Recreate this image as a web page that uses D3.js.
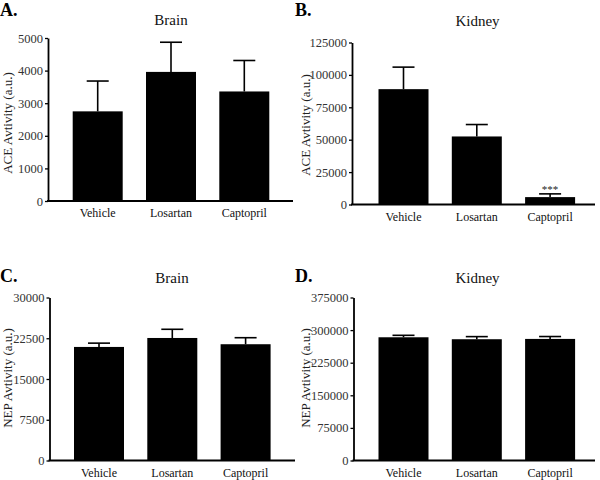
<!DOCTYPE html>
<html><head><meta charset="utf-8">
<script src="https://cdn.jsdelivr.net/npm/d3@7/dist/d3.min.js"></script>
<style>body{margin:0;background:#fff}svg{display:block}text{font-family:"Liberation Serif","Times New Roman",serif}</style>
</head><body><svg id="c" width="600" height="480"></svg>
<script>
const categories = ["Vehicle", "Losartan", "Captopril"];
const aceBrainMean = [2750, 3960, 3360];
const aceBrainErr = [930, 910, 950];
const aceKidneyMean = [89000, 52500, 5700];
const aceKidneyErr = [17000, 9200, 2500];
const nepBrainMean = [20900, 22550, 21400];
const nepBrainErr = [700, 1600, 1200];
const nepKidneyMean = [283500, 279000, 279700];
const nepKidneyErr = [4500, 6000, 5500];
const aceBrainTicks = [0, 1000, 2000, 3000, 4000, 5000];
const aceKidneyTicks = [0, 25000, 50000, 75000, 100000, 125000];
const nepBrainTicks = [0, 7500, 15000, 22500, 30000];
const nepKidneyTicks = [0, 75000, 150000, 225000, 300000, 375000];
const panelLetters = ["A.", "B.", "C.", "D."];
const panelTitles = ["Brain", "Kidney", "Brain", "Kidney"];
const yLabels = ["ACE Avtivity (a.u.)", "ACE Avtivity (a.u.)", "NEP Avtivity (a.u.)", "NEP Avtivity (a.u.)"];
const significance = [[], [null, null, "***"], [], []];

const panels = [
  {mean: aceBrainMean, err: aceBrainErr, ticks: aceBrainTicks, ax: 48, y0: 201, yT: 38, xEnd: 293, c0: 97.7, lx: 0, ly: 16, tx: 171, ty: 25, ylx: 12, yly: 123},
  {mean: aceKidneyMean, err: aceKidneyErr, ticks: aceKidneyTicks, ax: 352, y0: 204.5, yT: 42.5, xEnd: 595, c0: 403.5, lx: 295, ly: 16, tx: 477.5, ty: 26, ylx: 310, yly: 125},
  {mean: nepBrainMean, err: nepBrainErr, ticks: nepBrainTicks, ax: 49.5, y0: 460.5, yT: 297.5, xEnd: 295, c0: 99, lx: 0, ly: 282, tx: 172, ty: 282.5, ylx: 12, yly: 378},
  {mean: nepKidneyMean, err: nepKidneyErr, ticks: nepKidneyTicks, ax: 353.5, y0: 460.5, yT: 297.5, xEnd: 595, c0: 403.5, lx: 295, ly: 282, tx: 477.5, ty: 282.5, ylx: 310, yly: 378}
];

const svg = d3.select("#c");
const step = 73.3, barW = 50;

panels.forEach((p, i) => {
  const g = svg.append("g");
  const x = d3.scaleBand().domain(categories)
    .range([p.c0 - step / 2, p.c0 - step / 2 + step * 3])
    .paddingInner(1 - barW / step).paddingOuter((1 - barW / step) / 2);
  const y = d3.scaleLinear().domain([0, p.ticks[p.ticks.length - 1]]).range([p.y0, p.yT]);

  // bars
  g.selectAll("rect.bar").data(categories).join("rect")
    .attr("x", d => x(d)).attr("width", x.bandwidth())
    .attr("y", (d, j) => y(p.mean[j])).attr("height", (d, j) => y(0) - y(p.mean[j]))
    .attr("fill", "#000");
  // error bars (upper)
  categories.forEach((d, j) => {
    const cx = x(d) + x.bandwidth() / 2;
    g.append("line").attr("x1", cx).attr("x2", cx)
      .attr("y1", y(p.mean[j])).attr("y2", y(p.mean[j] + p.err[j]))
      .attr("stroke", "#000").attr("stroke-width", 1.6);
    g.append("line").attr("x1", cx - 11).attr("x2", cx + 11)
      .attr("y1", y(p.mean[j] + p.err[j])).attr("y2", y(p.mean[j] + p.err[j]))
      .attr("stroke", "#000").attr("stroke-width", 1.6);
    const s = significance[i][j];
    if (s) {
      g.append("text").attr("x", cx).attr("y", y(p.mean[j] + p.err[j]) - 0.5)
        .attr("text-anchor", "middle").attr("font-size", 11).attr("fill", "#222").text(s);
    }
  });

  // y axis
  const yAxis = g.append("g").attr("transform", `translate(${p.ax},0)`)
    .call(d3.axisLeft(y).tickValues(p.ticks).tickFormat(d3.format("d")).tickSize(3).tickSizeOuter(0).tickPadding(2));
  yAxis.select(".domain").attr("stroke", "#000").attr("stroke-width", 1.8);
  yAxis.selectAll(".tick line").attr("stroke", "#000").attr("stroke-width", 1.3);
  yAxis.selectAll(".tick text").attr("font-size", 12.5).attr("fill", "#333")
    .attr("font-family", '"Liberation Serif","Times New Roman",serif');

  // x axis line
  const xs = d3.scaleLinear().domain([0, 1]).range([p.ax, p.xEnd]);
  g.append("line").attr("x1", xs(0) - 1).attr("x2", xs(1)).attr("y1", p.y0).attr("y2", p.y0)
    .attr("stroke", "#000").attr("stroke-width", 1.8);
  // x labels
  g.selectAll("text.xl").data(categories).join("text").attr("class", "xl")
    .attr("x", d => x(d) + x.bandwidth() / 2).attr("y", p.y0 + 16)
    .attr("text-anchor", "middle").attr("font-size", 12).attr("fill", "#111").text(d => d);

  // title, letter, y label
  g.append("text").attr("x", p.tx).attr("y", p.ty).attr("text-anchor", "middle")
    .attr("font-size", 15).attr("fill", "#111").text(panelTitles[i]);
  g.append("text").attr("x", p.lx).attr("y", p.ly).attr("font-size", 18).attr("font-weight", "bold")
    .attr("fill", "#000").text(panelLetters[i]);
  g.append("text").attr("transform", `translate(${p.ylx},${p.yly}) rotate(-90)`)
    .attr("text-anchor", "middle").attr("font-size", 13).attr("fill", "#222").text(yLabels[i]);
});
</script></body></html>
